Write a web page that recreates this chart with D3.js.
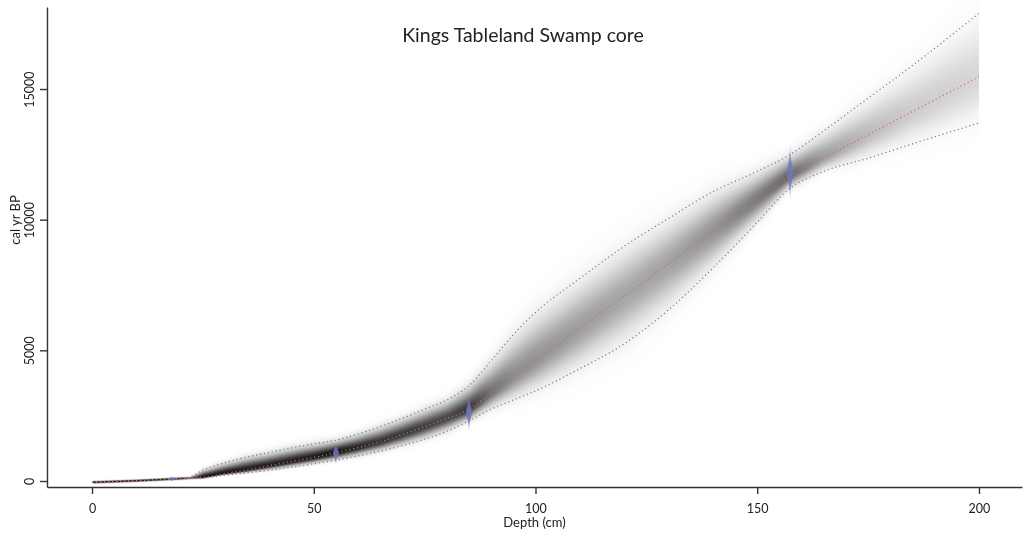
<!DOCTYPE html>
<html>
<head>
<meta charset="utf-8">
<script src="https://cdn.jsdelivr.net/npm/d3@7"></script>
<style>
  html, body { margin: 0; padding: 0; background: #fff; }
  #wrap { position: relative; width: 1029px; height: 540px; }
  #wrap canvas, #wrap svg { position: absolute; left: 0; top: 0; }
  text { font-family: Lato, "Open Sans", sans-serif; fill: #222; }
</style>
</head>
<body>
<div id="wrap">
  <canvas id="shade" width="1029" height="540"></canvas>
  <svg id="chart" width="1029" height="540"></svg>
</div>
<script>
const TITLE = "Kings Tableland Swamp core";

// age-depth model (depth in cm, ages in cal yr BP)
const DEPTHS = [0, 5, 10, 15, 18, 20, 22, 25, 30, 35, 40, 45, 50, 55, 60, 65, 70, 75, 80, 85,
  90, 95, 100, 110, 120, 130, 140, 150, 157, 165, 175, 185, 200];
const AGE_MEDIAN = [-50, -20, 10, 50, 77, 95, 110, 140, 290, 430, 590, 750, 900, 1090, 1280, 1500,
  1780, 2080, 2400, 2750, 3370, 3990, 4600, 5840, 7080, 8310, 9550, 10780, 11650, 12360, 13250, 14140, 15470];
const AGE_OLDER = [-45, -15, 15, 55, 82, 100, 150, 420, 700, 920, 1090, 1270, 1420, 1560, 1800, 2080,
  2400, 2750, 3100, 3650, 4600, 5600, 6450, 7750, 8980, 10050, 11070, 11850, 12450, 13400, 14650, 15900, 17900];
const AGE_YOUNGER = [-55, -25, 5, 45, 72, 88, 100, 120, 220, 310, 410, 530, 660, 800, 960, 1140,
  1360, 1600, 1900, 2300, 2750, 3100, 3450, 4300, 5250, 6550, 8150, 9900, 11150, 11850, 12350, 12900, 13700];
// relative darkness of the age distribution at the median
const PEAK_DENSITY = [0.9, 0.9, 0.9, 0.9, 0.9, 0.9, 0.6, 0.92, 0.92, 0.9, 0.88, 0.88, 0.9, 0.92, 0.85, 0.8,
  0.78, 0.75, 0.72, 0.78, 0.55, 0.45, 0.42, 0.38, 0.35, 0.36, 0.42, 0.52, 0.6, 0.38, 0.26, 0.2, 0.16];

// calibrated dates
const DATE_DEPTHS = [18, 55, 85, 157.4];
const DATE_MEANS = [80, 1070, 2620, 11800];
const DATE_SDS = [30, 135, 240, 340];

const X_TICKS = [0, 50, 100, 150, 200];
const Y_TICKS = [0, 5000, 10000, 15000];

const width = 1029;
const height = 540;
const box = { left: 47, right: 1022, top: 7, bottom: 487 };

const x = d3.scaleLinear().domain([-10.15, 209.7]).range([box.left, box.right]);
const y = d3.scaleLinear().domain([-230, 18138]).range([box.bottom, box.top]);

const median = d3.scaleLinear().domain(DEPTHS).range(AGE_MEDIAN);
const older = d3.scaleLinear().domain(DEPTHS).range(AGE_OLDER);
const younger = d3.scaleLinear().domain(DEPTHS).range(AGE_YOUNGER);
const peak = d3.scaleLinear().domain(DEPTHS).range(PEAK_DENSITY);

// grey shading of the modelled ages, one column per pixel
const ctx = document.getElementById("shade").getContext("2d");
ctx.fillStyle = "#fff";
ctx.fillRect(0, 0, width, height);
const img = ctx.getImageData(0, 0, width, height);
const x0 = Math.ceil(x(0));
const x1 = Math.floor(x(200));
for (let px = x0; px <= x1; px++) {
  const d = Math.min(200, Math.max(0, x.invert(px + 0.5)));
  const ym = y(median(d));
  const sUp = Math.max(0.8, (ym - y(older(d))) / 1.96);
  const sDn = Math.max(0.8, (y(younger(d)) - ym) / 1.96);
  const p = peak(d);
  const top = Math.max(0, Math.floor(ym - 3.2 * sUp));
  const bot = Math.min(height - 1, Math.ceil(ym + 3.2 * sDn));
  for (let py = top; py <= bot; py++) {
    const dy = py + 0.5 - ym;
    const s = dy < 0 ? sUp : sDn;
    const a = p * Math.exp(-0.5 * (dy / s) * (dy / s));
    const v = Math.round(255 * (1 - a));
    const i = (py * width + px) * 4;
    img.data[i] = v;
    img.data[i + 1] = v;
    img.data[i + 2] = v;
    img.data[i + 3] = 255;
  }
}
ctx.putImageData(img, 0, 0);

const svg = d3.select("#chart");

// calibrated date distributions
const dates = DATE_DEPTHS.map((depth, i) => ({ depth, mean: DATE_MEANS[i], sd: DATE_SDS[i] }));
const dateArea = (d) => {
  const half = Math.max(2.8, Math.min(5, 140 / d.sd));
  const pts = d3.range(-3, 3.01, 0.1).map((z) => ({ age: d.mean + z * d.sd, w: half * Math.exp(-0.5 * z * z) }));
  return d3.area()
    .y((p) => y(p.age))
    .x0((p) => x(d.depth) - p.w)
    .x1((p) => x(d.depth) + p.w)
    .curve(d3.curveBasis)(pts);
};
svg.append("g")
  .selectAll("path")
  .data(dates)
  .join("path")
  .attr("d", dateArea)
  .attr("fill", "#6c78c4")
  .attr("fill-opacity", 0.85);

// 95% ranges and median
const line = (ages) => d3.line()
  .x((d) => x(d))
  .y((d, i) => y(ages[i]))
  .curve(d3.curveMonotoneX)(DEPTHS);

svg.append("g")
  .attr("fill", "none")
  .attr("stroke-width", 1.2)
  .attr("stroke-dasharray", "1.2 2.8")
  .call((g) => g.append("path").attr("d", line(AGE_OLDER)).attr("stroke", "#7a7a7a"))
  .call((g) => g.append("path").attr("d", line(AGE_YOUNGER)).attr("stroke", "#7a7a7a"))
  .call((g) => g.append("path").attr("d", line(AGE_MEDIAN)).attr("stroke", "#db6a55"));

// axes
const xAxis = svg.append("g")
  .attr("transform", `translate(0,${box.bottom})`)
  .call(d3.axisBottom(x).tickValues(X_TICKS).tickSize(7).tickSizeOuter(0).tickPadding(6));
const yAxis = svg.append("g")
  .attr("transform", `translate(${box.left},0)`)
  .call(d3.axisLeft(y).tickValues(Y_TICKS).tickSize(7).tickSizeOuter(0).tickFormat(d3.format("d")));

for (const g of [xAxis, yAxis]) {
  g.select(".domain").attr("stroke", "#333").attr("stroke-width", 1.4);
  g.selectAll(".tick line").attr("stroke", "#333").attr("stroke-width", 1.4);
  g.selectAll("text").attr("font-family", null).attr("font-size", 12.5).attr("fill", "#222");
}
xAxis.selectAll(".tick text").attr("dy", null).attr("y", 25.5);
yAxis.selectAll(".tick text")
  .attr("transform", "rotate(-90)")
  .attr("text-anchor", "middle")
  .attr("x", 0)
  .attr("y", -13)
  .attr("dy", null);

svg.append("text")
  .attr("x", (box.left + box.right) / 2)
  .attr("y", 526.5)
  .attr("text-anchor", "middle")
  .attr("font-size", 13)
  .text("Depth (cm)");

svg.append("text")
  .attr("transform", "translate(20,220) rotate(-90)")
  .attr("text-anchor", "middle")
  .attr("font-size", 13)
  .text("cal yr BP");

svg.append("text")
  .attr("x", 523)
  .attr("y", 41.7)
  .attr("text-anchor", "middle")
  .attr("font-size", 19.5)
  .text(TITLE);
</script>
</body>
</html>
